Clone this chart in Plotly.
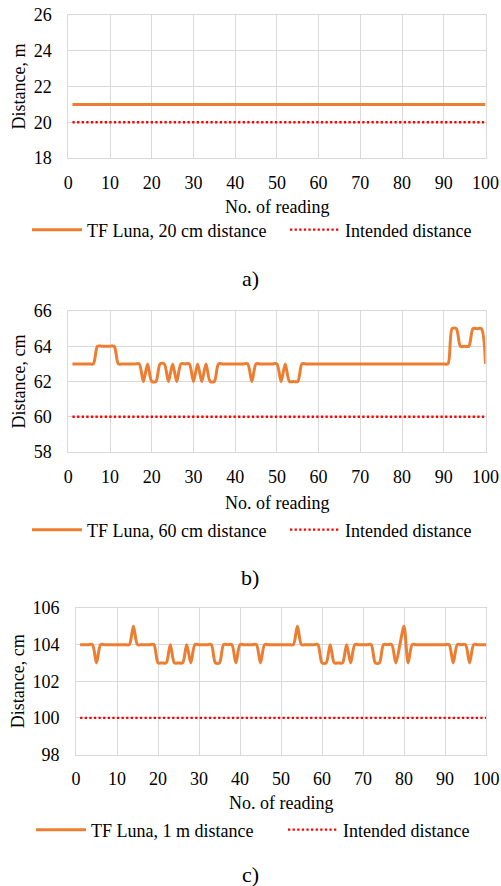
import plotly.graph_objects as go

# ---------------- data ----------------
readings = list(range(1, 101))

tf_luna_20cm = [
    21, 21, 21, 21, 21, 21, 21, 21, 21, 21,
    21, 21, 21, 21, 21, 21, 21, 21, 21, 21,
    21, 21, 21, 21, 21, 21, 21, 21, 21, 21,
    21, 21, 21, 21, 21, 21, 21, 21, 21, 21,
    21, 21, 21, 21, 21, 21, 21, 21, 21, 21,
    21, 21, 21, 21, 21, 21, 21, 21, 21, 21,
    21, 21, 21, 21, 21, 21, 21, 21, 21, 21,
    21, 21, 21, 21, 21, 21, 21, 21, 21, 21,
    21, 21, 21, 21, 21, 21, 21, 21, 21, 21,
    21, 21, 21, 21, 21, 21, 21, 21, 21, 21,
]

tf_luna_60cm = [
    63, 63, 63, 63, 63, 63, 64, 64, 64, 64,   # 1-10
    64, 63, 63, 63, 63, 63, 63, 62, 63, 62,   # 11-20
    62, 63, 63, 62, 63, 62, 63, 63, 63, 62,   # 21-30
    63, 62, 63, 62, 62, 63, 63, 63, 63, 63,   # 31-40
    63, 63, 63, 62, 63, 63, 63, 63, 63, 63,   # 41-50
    62, 63, 62, 62, 62, 63, 63, 63, 63, 63,   # 51-60
    63, 63, 63, 63, 63, 63, 63, 63, 63, 63,   # 61-70
    63, 63, 63, 63, 63, 63, 63, 63, 63, 63,   # 71-80
    63, 63, 63, 63, 63, 63, 63, 63, 63, 63,   # 81-90
    63, 65, 65, 64, 64, 64, 65, 65, 65, 63,   # 91-100
]

tf_luna_1m = [
    104, 104, 104, 104, 103, 104, 104, 104, 104, 104,   # 1-10
    104, 104, 104, 105, 104, 104, 104, 104, 104, 103,   # 11-20
    103, 103, 104, 103, 103, 103, 104, 103, 104, 104,   # 21-30
    104, 104, 104, 103, 103, 104, 104, 104, 103, 104,   # 31-40
    104, 104, 104, 104, 103, 104, 104, 104, 104, 104,   # 41-50
    104, 104, 104, 105, 104, 104, 104, 104, 104, 103,   # 51-60
    103, 104, 103, 103, 103, 104, 103, 104, 104, 104,   # 61-70
    104, 104, 103, 103, 104, 104, 104, 103, 104, 105,   # 71-80
    103, 104, 104, 104, 104, 104, 104, 104, 104, 104,   # 81-90
    104, 103, 104, 104, 104, 103, 104, 104, 104, 104,   # 91-100
]

intended_x = [1, 100]
intended_20 = [20, 20]
intended_60 = [60, 60]
intended_100 = [100, 100]

x_ticks = [0, 10, 20, 30, 40, 50, 60, 70, 80, 90, 100]
y_ticks_a = [18, 20, 22, 24, 26]
y_ticks_b = [58, 60, 62, 64, 66]
y_ticks_c = [98, 100, 102, 104, 106]

series_names = ["TF Luna, 20 cm distance", "TF Luna, 60 cm distance", "TF Luna, 1 m distance"]
intended_name = "Intended distance"
captions = ["a)", "b)", "c)"]
y_titles = ["Distance, m", "Distance, cm", "Distance, cm"]
x_title = "No. of reading"

# ---------------- style ----------------
W, H = 501, 886
FONT = "Liberation Serif"
ORANGE = "#ED7D31"
RED = "#FF0000"
GRID = "#D9D9D9"


def px_x(p):
    return p / W


def px_y(p):
    return 1 - p / H


# panel geometry in pixels: (left, right, top, bottom)
panels = [
    (68.3, 485.5, 15.0, 158.0),
    (68.3, 485.5, 311.0, 452.0),
    (76.0, 486.0, 608.0, 754.5),
]

fig = go.Figure()

measured = [tf_luna_20cm, tf_luna_60cm, tf_luna_1m]
intended = [intended_20, intended_60, intended_100]
xrefs = ["x", "x2", "x3"]
yrefs = ["y", "y2", "y3"]

for i in range(3):
    fig.add_trace(go.Scatter(
        x=readings, y=measured[i], mode="lines", name=series_names[i],
        line=dict(color=ORANGE, width=3, shape="spline", smoothing=0.8),
        xaxis=xrefs[i], yaxis=yrefs[i],
        legend="legend" if i == 0 else f"legend{2 * i + 1}",
    ))
    fig.add_trace(go.Scatter(
        x=intended_x, y=intended[i], mode="lines", name=intended_name,
        line=dict(color=RED, width=2.3, dash="2.3px,2.3px"),
        xaxis=xrefs[i], yaxis=yrefs[i], legend=f"legend{2 * i + 2}",
    ))

y_ticks = [y_ticks_a, y_ticks_b, y_ticks_c]
layout = dict(
    width=W, height=H,
    margin=dict(l=0, r=0, t=0, b=0),
    paper_bgcolor="white", plot_bgcolor="white",
    font=dict(family=FONT, size=18, color="black"),
    showlegend=True,
)

axis_common = dict(
    showgrid=True, gridcolor=GRID, gridwidth=1,
    showline=True, linecolor=GRID, linewidth=1, mirror=True,
    zeroline=False, ticks="", automargin=False,
    tickfont=dict(family=FONT, size=18, color="black"),
)

annotations = []
leg_y = [230, 530, 830]
cap_y = [278, 577, 874]
title_y = [207, 503, 803]
legend_x_series = [27, 27, 31]
legend_x_intended = [285, 285, 283]

for i in range(3):
    l, r, t, b = panels[i]
    xk = "xaxis" if i == 0 else f"xaxis{i+1}"
    yk = "yaxis" if i == 0 else f"yaxis{i+1}"
    layout[xk] = dict(
        axis_common, domain=[px_x(l), px_x(r)], range=[0, 100],
        tickmode="array", tickvals=x_ticks, anchor=yrefs[i],
        ticklabelstandoff=8,
    )
    layout[yk] = dict(
        axis_common, domain=[px_y(b), px_y(t)],
        range=[y_ticks[i][0], y_ticks[i][-1]],
        tickmode="array", tickvals=y_ticks[i], anchor=xrefs[i],
        ticklabelstandoff=12,
    )
    for j, lx in enumerate([legend_x_series[i], legend_x_intended[i]]):
        idx = 2 * i + 1 + j
        lk = "legend" if idx == 1 else f"legend{idx}"
        layout[lk] = dict(
            orientation="h", x=px_x(lx), xanchor="left",
            y=px_y(leg_y[i]), yanchor="middle",
            font=dict(family=FONT, size=18, color="black"),
            bgcolor="rgba(0,0,0,0)", borderwidth=0,
            itemwidth=50,
        )
    # y axis title
    annotations.append(dict(
        text=y_titles[i], x=px_x(18), y=px_y((t + b) / 2),
        xref="paper", yref="paper", showarrow=False, textangle=-90,
        xanchor="center", yanchor="middle",
        font=dict(family=FONT, size=18, color="black"),
    ))
    # x axis title
    annotations.append(dict(
        text=x_title, x=px_x((l + r) / 2), y=px_y(title_y[i]),
        xref="paper", yref="paper", showarrow=False,
        xanchor="center", yanchor="middle",
        font=dict(family=FONT, size=18, color="black"),
    ))
    # caption
    annotations.append(dict(
        text=captions[i], x=px_x(250), y=px_y(cap_y[i]),
        xref="paper", yref="paper", showarrow=False,
        xanchor="center", yanchor="middle",
        font=dict(family=FONT, size=22, color="black"),
    ))

layout["annotations"] = annotations
fig.update_layout(**layout)

fig.write_html("out.html")
